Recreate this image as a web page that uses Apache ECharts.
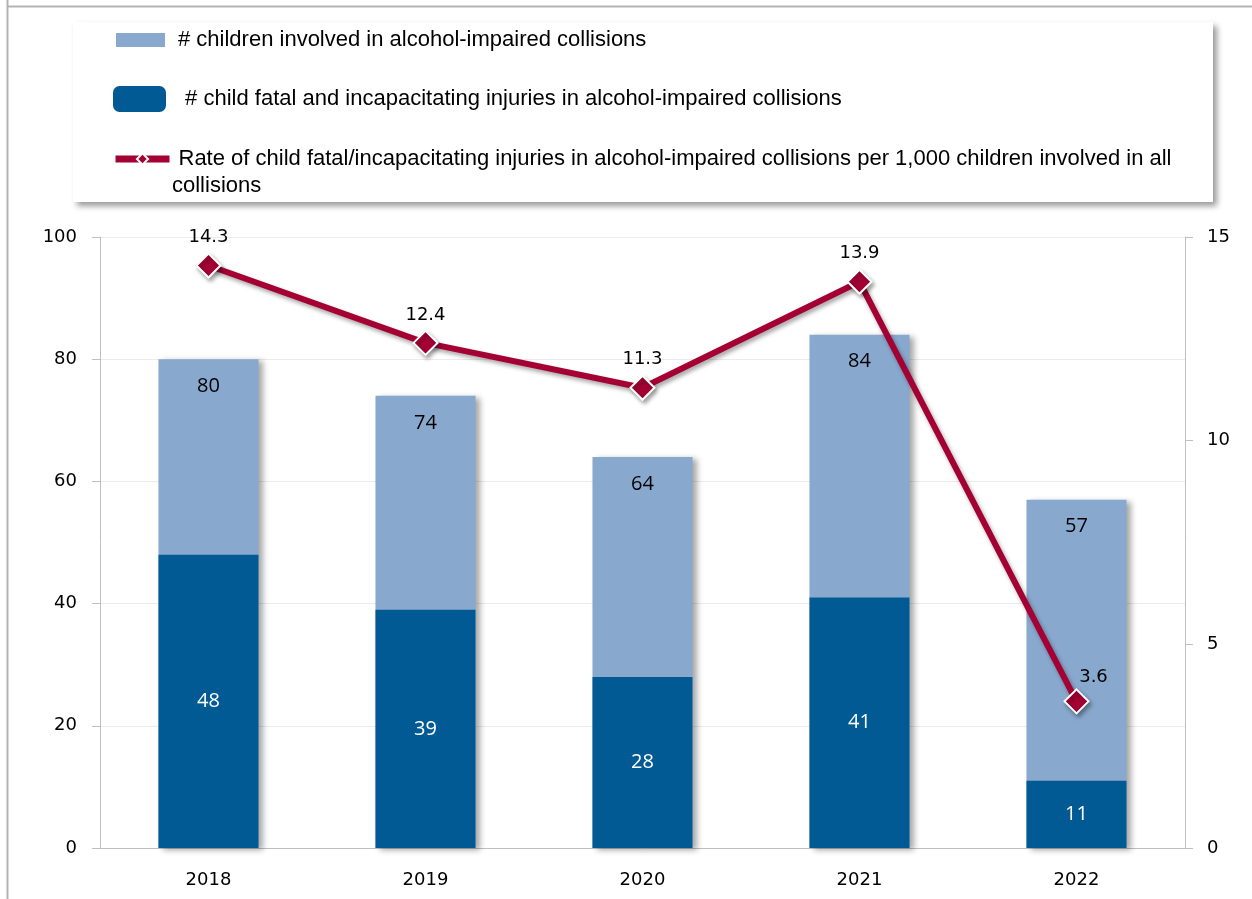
<!DOCTYPE html>
<html><head><meta charset="utf-8">
<script src="https://cdn.jsdelivr.net/npm/echarts@6/dist/echarts.min.js"></script>
<style>html,body{margin:0;padding:0;background:#fff}#c{width:1252px;height:899px}</style>
</head><body><div id="c"></div>
<script>
const years = ['2018','2019','2020','2021','2022'];
const childrenInvolved = [80, 74, 64, 84, 57];
const fatalInjuries = [48, 39, 28, 41, 11];
const ratePer1000 = [14.3, 12.4, 11.3, 13.9, 3.6];
const leftTicks = {min: 0, max: 100, interval: 20};
const rightTicks = {min: 0, max: 15, interval: 5};
const names = [
  '# children involved in alcohol-impaired collisions',
  ' # child fatal and incapacitating injuries in alcohol-impaired collisions',
  'Rate of child fatal/incapacitating injuries in alcohol-impaired collisions per 1,000 children involved in all collisions'
];
const rateLine1 = 'Rate of child fatal/incapacitating injuries in alcohol-impaired collisions per 1,000 children involved in all';
const rateLine2 = 'collisions';
const LIGHT = '#88A8CE', DARK = '#025A94', RED = '#A50034';
const numFont = '"DejaVu Sans", Verdana, sans-serif';
const barFont = '"Open Sans", "DejaVu Sans", sans-serif';
const legFont = '"Liberation Sans Narrow", "Liberation Sans", Arial, sans-serif';

const chart = echarts.init(document.getElementById('c'));
chart.setOption({
  animation: false,
  backgroundColor: '#fff',
  graphic: [
    {type: 'line', z: 0, shape: {x1: 7.5, y1: 0, x2: 7.5, y2: 899}, style: {stroke: '#b3b3b3', lineWidth: 2}},
    {type: 'line', z: 0, shape: {x1: 7, y1: 6.5, x2: 1252, y2: 6.5}, style: {stroke: '#b3b3b3', lineWidth: 2}},
    {type: 'rect', z: 0, shape: {x: 73, y: 22, width: 1140, height: 180},
     style: {fill: '#fff', shadowBlur: 6, shadowOffsetX: 4, shadowOffsetY: 4, shadowColor: 'rgba(0,0,0,0.4)'}},
    {type: 'text', z: 10, x: 172, y: 186,
     style: {text: rateLine2, fontFamily: legFont, fontSize: 22, fill: '#000', verticalAlign: 'middle', align: 'left'}}
  ],
  legend: [
    {data: [names[0]], left: 111, top: 24, itemWidth: 49, itemHeight: 14, icon: 'rect',
     textStyle: {fontFamily: legFont, fontSize: 22, color: '#000', padding: [0, 0, 0, 8]}},
    {data: [names[1]], left: 108, top: 81, itemWidth: 53, itemHeight: 26, icon: 'roundRect',
     textStyle: {fontFamily: legFont, fontSize: 22, color: '#000', padding: [0, 0, 0, 8]}},
    {data: [names[2]], left: 107, top: 143, itemWidth: 54, itemHeight: 14,
     lineStyle: {width: 7}, formatter: () => rateLine1,
     textStyle: {fontFamily: legFont, fontSize: 22, color: '#000', padding: [0, 0, 0, 4]}}
  ],
  grid: {left: 100, right: 67, top: 237, bottom: 51, containLabel: false},
  xAxis: {
    type: 'category', data: years,
    axisLine: {lineStyle: {color: '#bfbfbf', width: 1}},
    axisTick: {show: false},
    axisLabel: {fontFamily: numFont, fontSize: 18, color: '#000', margin: 23}
  },
  yAxis: [
    {type: 'value', min: leftTicks.min, max: leftTicks.max, interval: leftTicks.interval,
     axisLine: {show: true, lineStyle: {color: '#bfbfbf'}},
     axisTick: {show: true, length: 8, lineStyle: {color: '#bfbfbf'}},
     splitLine: {lineStyle: {color: '#ebebeb'}},
     axisLabel: {fontFamily: numFont, fontSize: 18, color: '#000', margin: 23}},
    {type: 'value', min: rightTicks.min, max: rightTicks.max, interval: rightTicks.interval,
     axisLine: {show: true, lineStyle: {color: '#bfbfbf'}},
     axisTick: {show: true, length: 8, lineStyle: {color: '#bfbfbf'}},
     splitLine: {show: false},
     axisLabel: {fontFamily: numFont, fontSize: 18, color: '#000', margin: 22}}
  ],
  series: [
    {name: names[0], type: 'bar', data: childrenInvolved, barWidth: 100, z: 2,
     itemStyle: {color: LIGHT, shadowBlur: 6, shadowOffsetX: 4, shadowOffsetY: 2, shadowColor: 'rgba(0,0,0,0.35)'},
     label: {show: true, position: 'insideTop', distance: 17, fontFamily: barFont, fontSize: 20, color: '#000'}},
    {name: names[1], type: 'bar', data: fatalInjuries, barWidth: 100, barGap: '-100%', z: 3,
     itemStyle: {color: DARK},
     label: {show: true, position: 'inside', fontFamily: barFont, fontSize: 20, color: '#fff'}},
    {name: names[2], type: 'line', yAxisIndex: 1, data: ratePer1000.map((v, i) => i === 4 ? {value: v, label: {offset: [17, 4]}} : v), z: 5,
     symbol: 'diamond', symbolSize: 24,
     lineStyle: {color: RED, width: 6, shadowBlur: 4, shadowOffsetX: 2, shadowOffsetY: 3, shadowColor: 'rgba(0,0,0,0.35)'},
     itemStyle: {color: RED, borderColor: '#fff', borderWidth: 2, shadowBlur: 4, shadowOffsetX: 2, shadowOffsetY: 3, shadowColor: 'rgba(0,0,0,0.35)'},
     label: {show: true, position: 'top', distance: 6, fontFamily: numFont, fontSize: 18, color: '#000', formatter: p => p.value.toFixed(1)}}
  ]
});
</script></body></html>
